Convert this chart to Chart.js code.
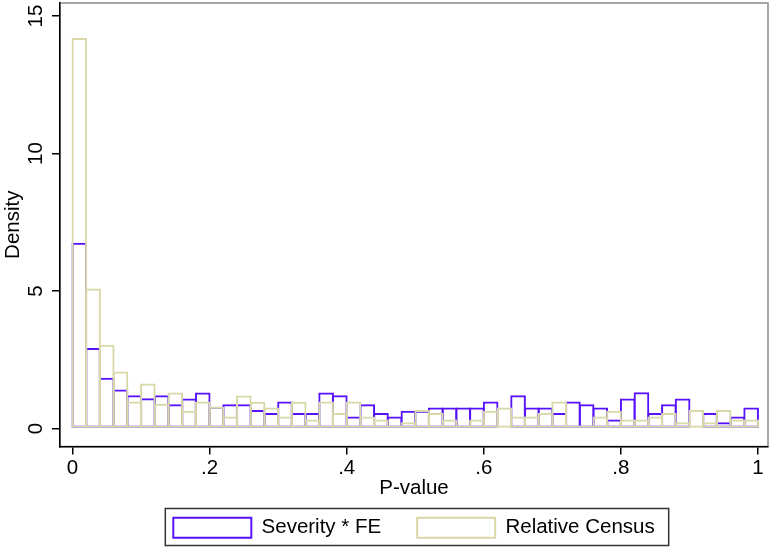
<!DOCTYPE html>
<html>
<head>
<meta charset="utf-8">
<script src="https://cdn.jsdelivr.net/npm/chart.js@4.4.0/dist/chart.umd.min.js"></script>
<style>
  html, body { margin: 0; padding: 0; background: #fff; }
  #wrap { width: 771px; height: 548px; position: relative; }
</style>
</head>
<body>
<div id="wrap"><canvas id="chart"></canvas></div>
<script>
// bin centres of the 50 histogram bins (width .02)
const binCenters = [
  0.01, 0.03, 0.05, 0.07, 0.09, 0.11, 0.13, 0.15, 0.17, 0.19,
  0.21, 0.23, 0.25, 0.27, 0.29, 0.31, 0.33, 0.35, 0.37, 0.39,
  0.41, 0.43, 0.45, 0.47, 0.49, 0.51, 0.53, 0.55, 0.57, 0.59,
  0.61, 0.63, 0.65, 0.67, 0.69, 0.71, 0.73, 0.75, 0.77, 0.79,
  0.81, 0.83, 0.85, 0.87, 0.89, 0.91, 0.93, 0.95, 0.97, 0.99,
];

const severityFE = [
  6.75, 2.93, 1.85, 1.42, 1.21, 1.10, 1.21, 0.88, 1.09, 1.31,
  0.79, 0.88, 0.88, 0.67, 0.56, 0.98, 0.56, 0.56, 1.31, 1.21,
  0.44, 0.88, 0.56, 0.44, 0.65, 0.65, 0.76, 0.76, 0.76, 0.76,
  0.98, 0.00, 1.21, 0.76, 0.76, 0.56, 0.98, 0.88, 0.76, 0.33,
  1.09, 1.32, 0.56, 0.88, 1.09, 0.00, 0.56, 0.23, 0.44, 0.76,
];

const relativeCensus = [
  14.2, 5.09, 3.05, 2.07, 0.98, 1.64, 0.90, 1.31, 0.65, 0.98,
  0.79, 0.44, 1.20, 0.97, 0.76, 0.44, 0.97, 0.33, 0.98, 0.56,
  0.98, 0.44, 0.33, 0.11, 0.23, 0.67, 0.56, 0.33, 0.11, 0.33,
  0.65, 0.76, 0.44, 0.44, 0.56, 0.98, 0.11, 0.11, 0.44, 0.65,
  0.33, 0.33, 0.44, 0.56, 0.23, 0.67, 0.23, 0.67, 0.33, 0.33,
];

const xTicks = [0, 0.2, 0.4, 0.6, 0.8, 1];
const xTickLabels = ["0", ".2", ".4", ".6", ".8", "1"];
const yTicks = [0, 5, 10, 15];

const blue = "rgb(88, 18, 250)";
const beige = "rgb(216, 216, 168)";
const font = "'Liberation Sans', Arial, Helvetica, sans-serif";
const fontSize = 20.5;

// gray frame of the plot region + box around the legend
const framePlugin = {
  id: "frame",
  beforeDraw(chart) {
    const { ctx, chartArea: a } = chart;
    ctx.save();
    ctx.strokeStyle = "#8a8a8a";
    ctx.lineWidth = 1.5;
    ctx.strokeRect(a.left, a.top, a.right - a.left, a.bottom - a.top);
    ctx.restore();
  },
  afterDraw(chart) {
    const lg = chart.legend;
    if (!lg || !lg.legendHitBoxes.length) return;
    const boxes = lg.legendHitBoxes;
    const left = Math.min(...boxes.map((b) => b.left)) - 8;
    const right = Math.max(...boxes.map((b) => b.left + b.width)) + 14;
    const top = boxes[0].top - 9;
    const bottom = boxes[0].top + 20 + 8;
    const ctx = chart.ctx;
    ctx.save();
    ctx.strokeStyle = "#333";
    ctx.lineWidth = 1.5;
    ctx.strokeRect(left, top, right - left, bottom - top);
    ctx.restore();
  },
};

function toPoints(values) {
  return values.map((v, i) => ({ x: binCenters[i], y: v }));
}

const barStyle = {
  backgroundColor: "rgba(0,0,0,0)",
  borderWidth: 2,
  borderSkipped: false,
  barPercentage: 1.14,
  categoryPercentage: 1,
  grouped: false,
};

const axisGrid = {
  display: true,
  drawOnChartArea: false,
  drawTicks: true,
  tickLength: 8,
  color: "#000",
  lineWidth: 1.5,
  offset: false,
};

new Chart(document.getElementById("chart"), {
  type: "bar",
  data: {
    datasets: [
      {
        label: "Severity * FE",
        data: toPoints(severityFE),
        borderColor: blue,
        order: 1,
        ...barStyle,
      },
      {
        label: "Relative Census",
        data: toPoints(relativeCensus),
        borderColor: beige,
        order: 0,
        ...barStyle,
      },
    ],
  },
  options: {
    responsive: true,
    maintainAspectRatio: false,
    animation: false,
    layout: { padding: { top: 3, right: 3, left: 0, bottom: 0 } },
    plugins: {
      tooltip: { enabled: false },
      legend: {
        position: "bottom",
        fullSize: false,
        labels: {
          boxWidth: 78,
          boxHeight: 20,
          padding: 36,
          color: "#000",
          font: { family: font, size: fontSize },
          sort: (a, b) => a.datasetIndex - b.datasetIndex,
        },
      },
    },
    scales: {
      x: {
        type: "linear",
        offset: false,
        min: -0.0182,
        max: 1.0146,
        afterBuildTicks: (scale) => {
          scale.ticks = xTicks.map((v) => ({ value: v }));
        },
        afterFit: (scale) => {
          scale.height = 35;
          scale.paddingLeft = 0;
          scale.paddingRight = 0;
        },
        ticks: {
          color: "#000",
          padding: 2,
          maxRotation: 0,
          font: { family: font, size: fontSize },
          callback: (value) => xTickLabels[xTicks.indexOf(value)],
        },
        grid: axisGrid,
        border: { display: true, color: "#000", width: 1.5 },
        title: {
          display: true,
          text: "P-value",
          color: "#000",
          font: { family: font, size: fontSize },
          padding: { top: 0, bottom: -19 },
        },
      },
      y: {
        min: -0.654,
        max: 15.472,
        afterBuildTicks: (scale) => {
          scale.ticks = yTicks.map((v) => ({ value: v }));
        },
        afterFit: (scale) => {
          scale.width = 60;
          scale.paddingTop = 0;
          scale.paddingBottom = 0;
        },
        ticks: {
          color: "#000",
          padding: 4,
          minRotation: 90,
          maxRotation: 90,
          crossAlign: "center",
          font: { family: font, size: fontSize },
        },
        grid: axisGrid,
        border: { display: true, color: "#000", width: 1.5 },
        title: {
          display: true,
          text: "Density",
          color: "#000",
          font: { family: font, size: fontSize },
          padding: { top: 1, bottom: 0 },
        },
      },
    },
  },
  plugins: [framePlugin],
});
</script>
</body>
</html>
